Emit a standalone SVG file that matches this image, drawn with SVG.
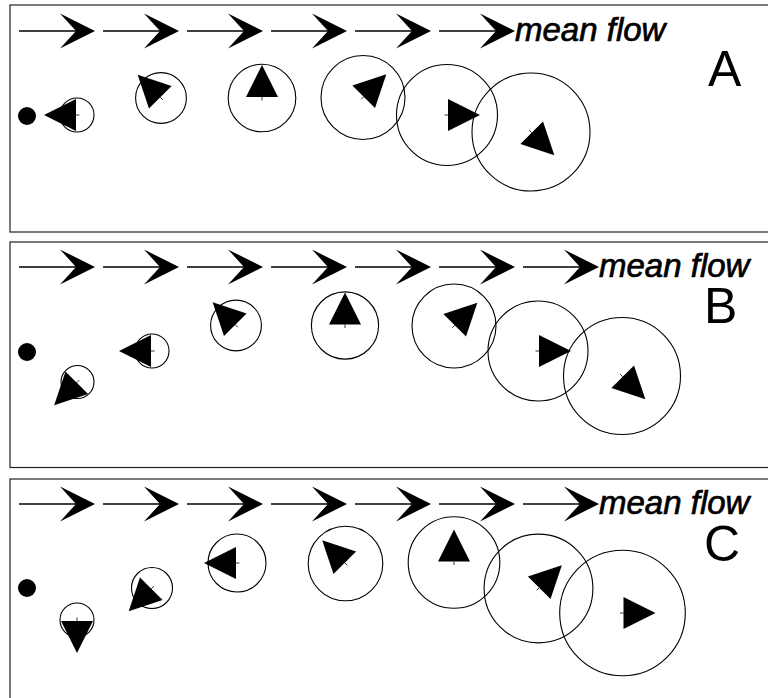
<svg xmlns="http://www.w3.org/2000/svg" xmlns:xlink="http://www.w3.org/1999/xlink" width="768" height="698" viewBox="0 0 768 698">
<style>
.panel{fill:#fff;stroke:#222;stroke-width:1.2}
.ring{fill:none;stroke:#000;stroke-width:1.1}
.dot{fill:#000}
.flowtxt{font-family:"Liberation Sans",Arial,sans-serif;font-style:italic;font-size:33px;fill:#000;stroke:#000;stroke-width:0.7}
.lbl{font-family:"Liberation Sans",Arial,sans-serif;font-size:50px;fill:#000}
</style>
<defs>
<g id="arr">
<line x1="-76" y1="0" x2="-10" y2="0" stroke="#000" stroke-width="1.4"/>
<path d="M0,0 L-35,-17.5 L-19,0 L-35,17.5 Z" fill="#000"/>
</g>
<g id="tri">
<path d="M1,-16 L33,0 L1,16 Z" fill="#000"/>
<line x1="-2.5" y1="0" x2="1" y2="0" stroke="#000" stroke-width="0.8"/>
</g>
</defs>
<rect x="10" y="5" width="770" height="227" class="panel"/>
<rect x="10" y="242" width="770" height="225.5" class="panel"/>
<rect x="10" y="479" width="770" height="240" class="panel"/>
<g id="connectors">
<use xlink:href="#arr" href="#arr" x="95" y="31"/>
<use xlink:href="#arr" href="#arr" x="179" y="31"/>
<use xlink:href="#arr" href="#arr" x="263" y="31"/>
<use xlink:href="#arr" href="#arr" x="347" y="31"/>
<use xlink:href="#arr" href="#arr" x="431" y="31"/>
<use xlink:href="#arr" href="#arr" x="515" y="31"/>
<use xlink:href="#arr" href="#arr" x="95" y="267"/>
<use xlink:href="#arr" href="#arr" x="179" y="267"/>
<use xlink:href="#arr" href="#arr" x="263" y="267"/>
<use xlink:href="#arr" href="#arr" x="347" y="267"/>
<use xlink:href="#arr" href="#arr" x="431" y="267"/>
<use xlink:href="#arr" href="#arr" x="515" y="267"/>
<use xlink:href="#arr" href="#arr" x="599" y="267"/>
<use xlink:href="#arr" href="#arr" x="95" y="504"/>
<use xlink:href="#arr" href="#arr" x="179" y="504"/>
<use xlink:href="#arr" href="#arr" x="263" y="504"/>
<use xlink:href="#arr" href="#arr" x="347" y="504"/>
<use xlink:href="#arr" href="#arr" x="431" y="504"/>
<use xlink:href="#arr" href="#arr" x="515" y="504"/>
<use xlink:href="#arr" href="#arr" x="599" y="504"/>
</g>
<g id="flowA"><text class="flowtxt" x="515" y="41">mean flow</text></g>
<g id="flowB"><text class="flowtxt" x="599" y="277">mean flow</text></g>
<g id="flowC"><text class="flowtxt" x="599" y="514">mean flow</text></g>
<g id="labelA"><text class="lbl" x="708" y="86">A</text></g>
<g id="labelB"><text class="lbl" x="704" y="323">B</text></g>
<g id="labelC"><text class="lbl" x="704" y="561">C</text></g>
<!-- Panel A -->
<g id="A0"><circle class="dot" cx="27" cy="116" r="9"/></g>
<g id="A1"><circle class="ring" cx="77" cy="115" r="17"/><use xlink:href="#tri" href="#tri" transform="translate(77,115) rotate(180)"/></g>
<g id="A2"><circle class="ring" cx="161" cy="98" r="25.4"/><use xlink:href="#tri" href="#tri" transform="translate(161,98) rotate(-135)"/></g>
<g id="A3"><circle class="ring" cx="262" cy="98" r="33.8"/><use xlink:href="#tri" href="#tri" transform="translate(262,98) rotate(-90)"/></g>
<g id="A4"><circle class="ring" cx="363" cy="97.5" r="42"/><use xlink:href="#tri" href="#tri" transform="translate(363,97.5) rotate(-45)"/></g>
<g id="A5"><circle class="ring" cx="447" cy="115" r="50.5"/><use xlink:href="#tri" href="#tri" transform="translate(447,115) rotate(0)"/></g>
<g id="A6"><circle class="ring" cx="531" cy="132" r="59"/><use xlink:href="#tri" href="#tri" transform="translate(531,132) rotate(45)"/></g>
<!-- Panel B -->
<g id="B0"><circle class="dot" cx="27" cy="352" r="9"/></g>
<g id="B1"><circle class="ring" cx="77.5" cy="382" r="16.5"/><use xlink:href="#tri" href="#tri" transform="translate(77.5,382) rotate(135)"/></g>
<g id="B2"><circle class="ring" cx="152" cy="351" r="17"/><use xlink:href="#tri" href="#tri" transform="translate(152,351) rotate(180)"/></g>
<g id="B3"><circle class="ring" cx="236" cy="325.5" r="25.4"/><use xlink:href="#tri" href="#tri" transform="translate(236,325.5) rotate(-135)"/></g>
<g id="B4"><circle class="ring" cx="345" cy="325.5" r="33.6"/><use xlink:href="#tri" href="#tri" transform="translate(345,325.5) rotate(-90)"/></g>
<g id="B5"><circle class="ring" cx="454" cy="326" r="42"/><use xlink:href="#tri" href="#tri" transform="translate(454,326) rotate(-45)"/></g>
<g id="B6"><circle class="ring" cx="538" cy="351" r="50"/><use xlink:href="#tri" href="#tri" transform="translate(538,351) rotate(0)"/></g>
<g id="B7"><circle class="ring" cx="622" cy="376" r="58.5"/><use xlink:href="#tri" href="#tri" transform="translate(622,376) rotate(45)"/></g>
<!-- Panel C -->
<g id="C0"><circle class="dot" cx="27" cy="588" r="9"/></g>
<g id="C1"><circle class="ring" cx="77" cy="620" r="17"/><use xlink:href="#tri" href="#tri" transform="translate(77,620) rotate(90)"/></g>
<g id="C2"><circle class="ring" cx="152" cy="588" r="20.5"/><use xlink:href="#tri" href="#tri" transform="translate(152,588) rotate(135)"/></g>
<g id="C3"><circle class="ring" cx="237" cy="563" r="29"/><use xlink:href="#tri" href="#tri" transform="translate(237,563) rotate(180)"/></g>
<g id="C4"><circle class="ring" cx="345.5" cy="563.5" r="37.3"/><use xlink:href="#tri" href="#tri" transform="translate(345.5,563.5) rotate(-135)"/></g>
<g id="C5"><circle class="ring" cx="454" cy="562.5" r="45.8"/><use xlink:href="#tri" href="#tri" transform="translate(454,562.5) rotate(-90)"/></g>
<g id="C6"><circle class="ring" cx="538.5" cy="588.5" r="54.4"/><use xlink:href="#tri" href="#tri" transform="translate(538.5,588.5) rotate(-45)"/></g>
<g id="C7"><circle class="ring" cx="622.5" cy="613" r="62.8"/><use xlink:href="#tri" href="#tri" transform="translate(622.5,613) rotate(0)"/></g>
</svg>
